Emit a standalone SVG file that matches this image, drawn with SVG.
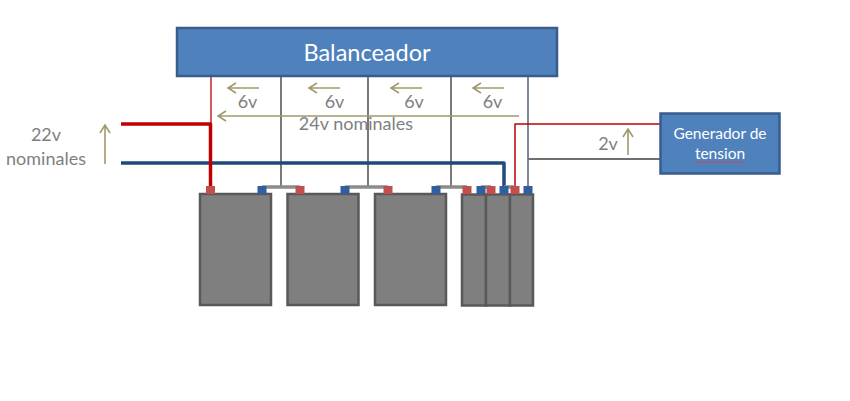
<svg xmlns="http://www.w3.org/2000/svg" width="850" height="401" viewBox="0 0 850 401">
<defs>
<style>
text{font-family:"Lato","Open Sans",sans-serif;text-anchor:middle}
.lbl{fill:#808080;font-size:18px}
.wht{fill:#fff}
.box{fill:#4f81bd;stroke:#385d8a;stroke-width:2.5}
.bat{fill:#7f7f7f;stroke:#595959;stroke-width:2.5}
.red{fill:#c0504d}
.blu{fill:#2f5f9e}
.w{fill:none;stroke-linejoin:round}
.ar{fill:none;stroke:#a09a6c;stroke-width:1.6}
</style>
</defs>
<g id="connectors">
<path class="w" d="M211 76V124" stroke="#c00000" stroke-width="1.300"/>
<path class="w" d="M281 76V187M368 76V187M451 76V187" stroke="#595959" stroke-width="1.600"/>
<path class="w" d="M528 76V187" stroke="#6f7b90" stroke-width="1.800"/>
<path class="w" d="M528 159H660" stroke="#6f6f6f" stroke-width="1.800"/>
<path class="w" d="M515 187V124H660" stroke="#c00000" stroke-width="1.500"/>
<path class="w" d="M121 163H504V187" stroke="#1f497d" stroke-width="3.500"/>
<path class="w" d="M121 124H210.500V187" stroke="#c00000" stroke-width="3.500"/>
<path class="w" d="M262 187H300M345 187H388M436 187H467M481 187H491M504 187H515" stroke="#8c8c8c" stroke-width="3.500"/>
</g>
<g id="arrows">
<path class="ar" d="M259 88H228M236 83L228 88L236 93"/>
<path class="ar" d="M340 88H309M317 83L309 88L317 93"/>
<path class="ar" d="M422 88H391M399 83L391 88L399 93"/>
<path class="ar" d="M504 88H473M481 83L473 88L481 93"/>
<path class="ar" d="M519 116H218M226 111L218 116L226 121"/>
<path class="ar" d="M105 164V125M100 133L105 125L110 133"/>
<path class="ar" d="M628 155V129M623 137L628 129L633 137"/>
</g>
<g id="balanceador">
<rect class="box" x="177" y="28" width="380" height="48"/>
<text class="wht" x="367" y="61" font-size="23.500">Balanceador</text>
</g>
<g id="generador">
<rect class="box" x="660.500" y="113.500" width="119" height="60"/>
<text class="wht" x="720" y="139" font-size="15.500">Generador de</text>
<text class="wht" x="720" y="159" font-size="15.500">tension</text>
<path d="M695 161.500l1.500 1.400 1.500-1.400 1.500 1.400 1.500-1.400 1.500 1.400 1.500-1.400 1.500 1.400 1.500-1.400 1.500 1.400 1.500-1.400 1.500 1.400 1.500-1.400 1.500 1.400 1.500-1.400 1.500 1.400 1.500-1.400 1.500 1.400 1.500-1.400 1.500 1.400 1.500-1.400 1.500 1.400 1.500-1.400 1.500 1.400 1.500-1.400 1.500 1.400 1.500-1.400 1.500 1.400 1.500-1.400 1.500 1.400 1.500-1.400 1.500 1.400 1.500-1.400" fill="none" stroke="#d0454a" stroke-width="1"/>
</g>
<g id="bateria1">
<rect class="bat" x="200" y="194" width="71" height="111"/>
<rect class="red" x="206" y="186" width="9" height="8"/>
<rect class="blu" x="257.500" y="186" width="9" height="8"/>
</g>
<g id="bateria2">
<rect class="bat" x="287.500" y="194" width="71" height="111"/>
<rect class="red" x="295.500" y="186" width="9" height="8"/>
<rect class="blu" x="340.500" y="186" width="9" height="8"/>
</g>
<g id="bateria3">
<rect class="bat" x="375" y="194" width="71" height="111"/>
<rect class="red" x="383.500" y="186" width="9" height="8"/>
<rect class="blu" x="431.500" y="186" width="9" height="8"/>
</g>
<g id="bateria4">
<rect class="bat" x="462" y="194.500" width="24" height="111"/>
<rect class="red" x="462.500" y="186" width="9" height="8"/>
<rect class="blu" x="476.500" y="186" width="9" height="8"/>
</g>
<g id="bateria5">
<rect class="bat" x="486" y="194.500" width="24" height="111"/>
<rect class="red" x="486.500" y="186" width="9" height="8"/>
<rect class="blu" x="499.500" y="186" width="9" height="8"/>
</g>
<g id="bateria6">
<rect class="bat" x="510" y="194.500" width="23" height="111"/>
<rect class="red" x="510.500" y="186" width="9" height="8"/>
<rect class="blu" x="523.500" y="186" width="9" height="8"/>
</g>
<g id="labels">
<text class="lbl" x="247.500" y="108">6v</text>
<text class="lbl" x="334.500" y="108">6v</text>
<text class="lbl" x="414" y="108">6v</text>
<text class="lbl" x="492.500" y="108">6v</text>
<text class="lbl" x="356" y="130">24v nominales</text>
<text class="lbl" x="46" y="141">22v</text>
<text class="lbl" x="46" y="165">nominales</text>
<text class="lbl" x="608" y="150">2v</text>
</g>
</svg>
